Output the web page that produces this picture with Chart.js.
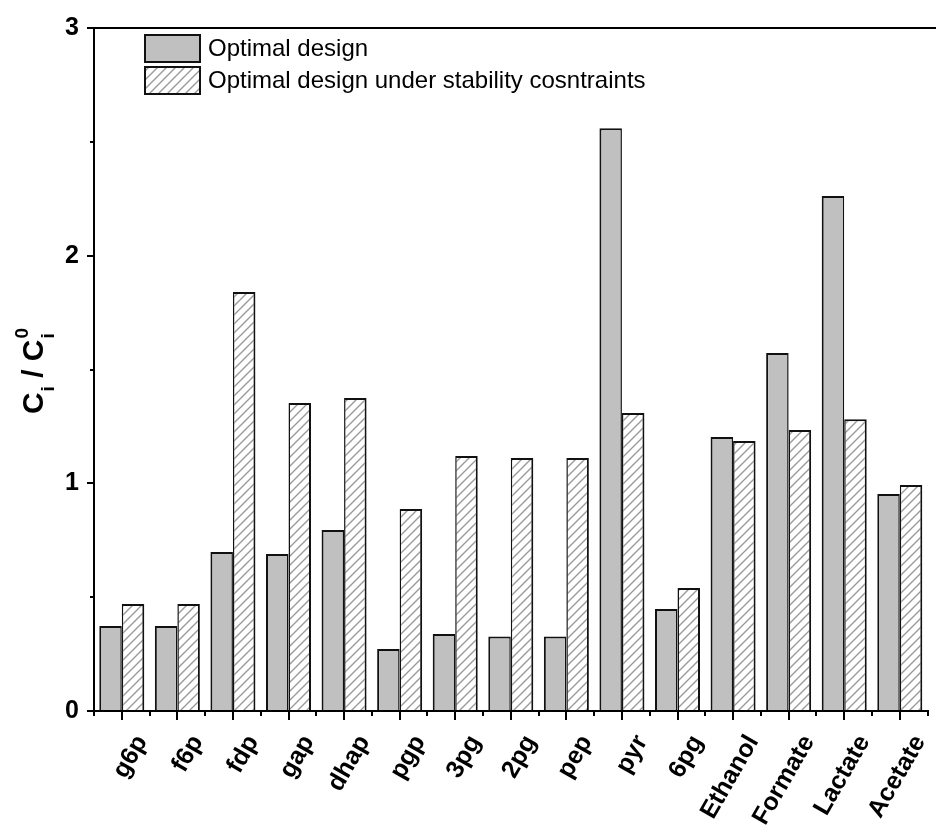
<!DOCTYPE html>
<html>
<head>
<meta charset="utf-8">
<script src="https://cdn.jsdelivr.net/npm/chart.js@4.4.0/dist/chart.umd.min.js"></script>
<style>
  html, body { margin: 0; padding: 0; background: #fff; overflow: hidden; }
  #wrap { width: 936px; height: 830px; }
</style>
</head>
<body>
<div id="wrap"><canvas id="chart" width="936" height="830"></canvas></div>
<script>
const categories = ["g6p", "f6p", "fdp", "gap", "dhap", "pgp", "3pg", "2pg", "pep", "pyr", "6pg", "Ethanol", "Formate", "Lactate", "Acetate"];
const optimalDesign = [0.373, 0.373, 0.698, 0.69, 0.795, 0.272, 0.338, 0.327, 0.327, 2.56, 0.448, 1.203, 1.572, 2.262, 0.953];
const stabilityDesign = [0.47, 0.47, 1.84, 1.353, 1.375, 0.887, 1.12, 1.111, 1.111, 1.309, 0.54, 1.186, 1.234, 1.282, 0.993];
const seriesLabels = ["Optimal design", "Optimal design under stability cosntraints"];
const yMin = 0;
const yMax = 3;
const yStep = 1;

const FONT = "'Liberation Sans', Arial, sans-serif";

function makeHatch() {
  const c = document.createElement("canvas");
  c.width = 9;
  c.height = 9;
  const g = c.getContext("2d");
  g.fillStyle = "#fff";
  g.fillRect(0, 0, 9, 9);
  g.strokeStyle = "#9a9a9a";
  g.lineWidth = 1.4;
  g.beginPath();
  g.moveTo(0, 9); g.lineTo(9, 0);
  g.moveTo(-2, 2); g.lineTo(2, -2);
  g.moveTo(7, 11); g.lineTo(11, 7);
  g.stroke();
  return g.createPattern(c, "repeat");
}
const hatch = makeHatch();

// top frame line + minor ticks
const framePlugin = {
  id: "frame",
  afterDraw(chart) {
    const { ctx, chartArea } = chart;
    const x = chart.scales.x, y = chart.scales.y;
    ctx.save();
    ctx.strokeStyle = "#000";
    ctx.lineWidth = 2;
    ctx.beginPath();
    ctx.moveTo(chartArea.left - 1, chartArea.top);
    ctx.lineTo(chart.width, chartArea.top);
    ctx.stroke();
    ctx.beginPath();
    for (let i = 0; i <= categories.length; i++) {
      const px = Math.round(x.getPixelForValue(i - 0.5));
      ctx.moveTo(px, chartArea.bottom);
      ctx.lineTo(px, chartArea.bottom + 5);
    }
    for (let v = yMin + yStep / 2; v < yMax; v += yStep) {
      const py = Math.round(y.getPixelForValue(v));
      ctx.moveTo(chartArea.left, py);
      ctx.lineTo(chartArea.left - 4, py);
    }
    ctx.stroke();
    ctx.restore();
  }
};

const legendPlugin = {
  id: "boxLegend",
  afterDraw(chart) {
    const { ctx } = chart;
    ctx.save();
    chart.data.datasets.forEach((ds, i) => {
      const bx = 145, by = 35 + i * 32, bw = 55, bh = 27;
      ctx.fillStyle = ds.backgroundColor;
      ctx.fillRect(bx, by, bw, bh);
      ctx.strokeStyle = "#111";
      ctx.lineWidth = 2;
      ctx.strokeRect(bx, by, bw, bh);
      ctx.fillStyle = "#000";
      ctx.font = "24px " + FONT;
      ctx.textBaseline = "middle";
      ctx.textAlign = "left";
      ctx.fillText(ds.label, 208, by + bh / 2 + 1);
    });
    ctx.restore();
  }
};

const yTitlePlugin = {
  id: "yTitle",
  afterDraw(chart) {
    const { ctx } = chart;
    const big = "bold 30px " + FONT, small = "bold 19px " + FONT;
    ctx.save();
    ctx.translate(43, 371);
    ctx.rotate(-Math.PI / 2);
    ctx.fillStyle = "#000";
    ctx.textBaseline = "alphabetic";
    ctx.textAlign = "left";
    ctx.font = big;
    const wC = ctx.measureText("C").width;
    const wSl = ctx.measureText(" / ").width;
    ctx.font = small;
    const wi = ctx.measureText("i").width;
    const w0 = ctx.measureText("0").width;
    let x = -(wC * 2 + wSl + wi + w0 + 2) / 2;
    ctx.font = big;
    ctx.fillText("C", x, 0); x += wC;
    ctx.font = small;
    ctx.fillText("i", x + 1, 11); x += wi + 1;
    ctx.font = big;
    ctx.fillText(" / ", x, 0); x += wSl;
    ctx.fillText("C", x, 0); x += wC;
    ctx.font = small;
    ctx.fillText("0", x + 1, -15);
    ctx.fillText("i", x + 1, 11);
    ctx.restore();
  }
};

new Chart(document.getElementById("chart"), {
  type: "bar",
  data: {
    labels: categories,
    datasets: [{
      label: seriesLabels[0],
      data: optimalDesign,
      backgroundColor: "#c0c0c0",
      borderColor: "#111",
      borderWidth: { top: 2, left: 2, right: 1.5, bottom: 0 },
      borderSkipped: false
    }, {
      label: seriesLabels[1],
      data: stabilityDesign,
      backgroundColor: hatch,
      borderColor: "#111",
      borderWidth: { top: 2, left: 1.5, right: 2, bottom: 0 },
      borderSkipped: false
    }]
  },
  options: {
    responsive: false,
    animation: false,
    layout: { padding: { top: 28, right: 7, left: 0, bottom: 0 } },
    datasets: { bar: { categoryPercentage: 0.81, barPercentage: 1.0 } },
    plugins: { legend: { display: false }, tooltip: { enabled: false } },
    scales: {
      x: {
        offset: true,
        afterFit: s => { s.height = 119; },
        border: { color: "#000", width: 2 },
        grid: { offset: false, drawOnChartArea: false, color: "#000", lineWidth: 2, tickLength: 9 },
        ticks: {
          autoSkip: false, minRotation: 60, maxRotation: 60, padding: 10, labelOffset: 20,
          color: "#000", font: { family: FONT, size: 25, weight: "bold" }
        }
      },
      y: {
        min: yMin, max: yMax,
        afterFit: s => { s.width = 94; },
        border: { color: "#000", width: 2 },
        grid: { drawOnChartArea: false, color: "#000", lineWidth: 2, tickLength: 7 },
        ticks: {
          stepSize: yStep, padding: 8,
          color: "#000", font: { family: FONT, size: 25, weight: "bold" }
        }
      }
    }
  },
  plugins: [framePlugin, legendPlugin, yTitlePlugin]
});
</script>
</body>
</html>
